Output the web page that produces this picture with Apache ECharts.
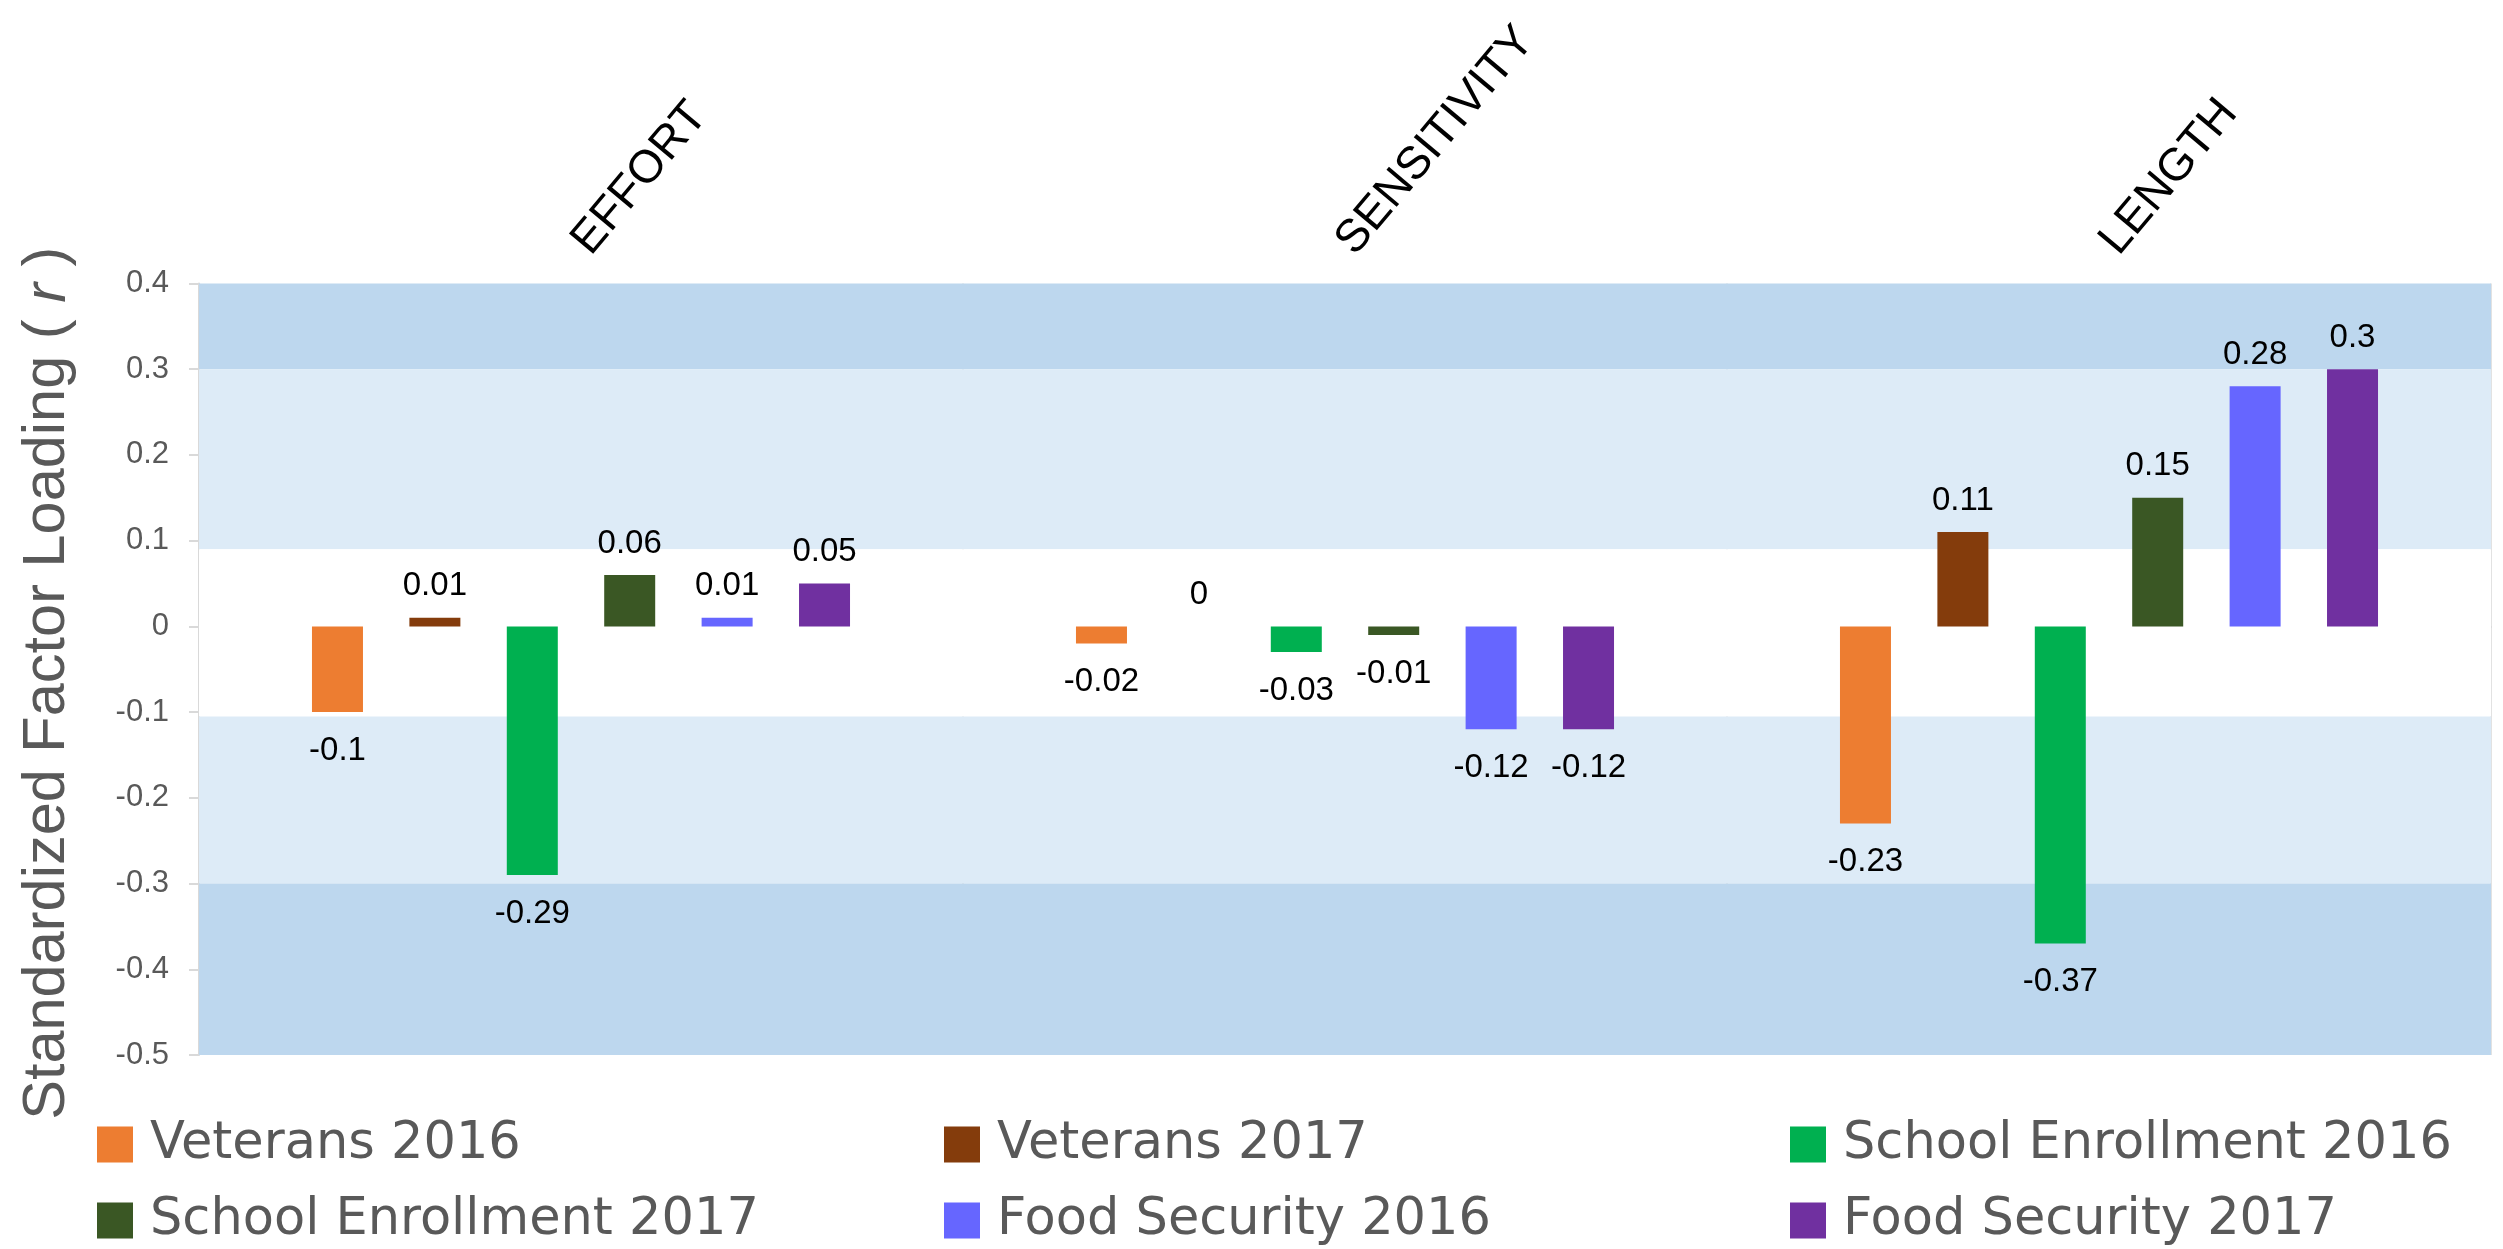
<!DOCTYPE html>
<html>
<head>
<meta charset="utf-8">
<script src="https://cdn.jsdelivr.net/npm/echarts@6/dist/echarts.min.js"></script>
<style>
html,body{margin:0;padding:0;background:#fff;}
#c{width:2503px;height:1249px;}
</style>
</head>
<body>
<div id="c"></div>
<script>
const categories = ['EFFORT', 'SENSITIVITY', 'LENGTH'];
const seriesNames = ['Veterans 2016', 'Veterans 2017', 'School Enrollment 2016', 'School Enrollment 2017', 'Food Security 2016', 'Food Security 2017'];
const veterans2016 = [-0.1, -0.02, -0.23];
const veterans2017 = [0.01, 0, 0.11];
const schoolEnrollment2016 = [-0.29, -0.03, -0.37];
const schoolEnrollment2017 = [0.06, -0.01, 0.15];
const foodSecurity2016 = [0.01, -0.12, 0.28];
const foodSecurity2017 = [0.05, -0.12, 0.3];
const yTicks = [-0.5, -0.4, -0.3, -0.2, -0.1, 0, 0.1, 0.2, 0.3, 0.4];
const bandRanges = [[0.3, 0.4], [0.09, 0.3], [-0.105, 0.09], [-0.3, -0.105], [-0.5, -0.3]];

const allValues = [veterans2016, veterans2017, schoolEnrollment2016, schoolEnrollment2017, foodSecurity2016, foodSecurity2017];
const colors = ['#ED7D31', '#843C0C', '#00B050', '#3A5724', '#6666FF', '#7030A0'];
const bandColors = ['#BDD7EE', '#DDEBF7', '#FFFFFF', '#DDEBF7', '#BDD7EE'];

const chart = echarts.init(document.getElementById('c'), null, {renderer: 'canvas'});

const barSeries = seriesNames.map((name, i) => ({
  name: name,
  type: 'bar',
  xAxisIndex: 0,
  yAxisIndex: 0,
  barWidth: 51,
  barGap: '91%',
  itemStyle: {color: colors[i]},
  z: 3,
  label: {
    show: true,
    color: '#000',
    fontFamily: 'Liberation Sans',
    fontSize: 33,
    formatter: p => String(p.value)
  },
  data: allValues[i].map(v => ({
    value: v,
    label: {position: v >= 0 ? 'top' : 'bottom', distance: v >= 0 ? 15 : 22}
  }))
}));

const bandSeries = {
  name: '__bands',
  type: 'line',
  data: [],
  silent: true,
  z: -1,
  markArea: {
    silent: true,
    data: bandRanges.map((r, i) => [
      {yAxis: r[0], itemStyle: {color: bandColors[i], opacity: 1}},
      {yAxis: r[1]}
    ])
  }
};

// legend placement: 3 columns x 2 rows (row-major in series order)
const legendColLeft = [97, 944, 1790];
const legendRowTop = [1119, 1195];
const legends = seriesNames.map((name, i) => ({
  data: [name],
  orient: 'horizontal',
  left: legendColLeft[i % 3],
  top: legendRowTop[Math.floor(i / 3)],
  icon: 'rect',
  itemWidth: 36,
  itemHeight: 36,
  padding: 0,
  selectedMode: false,
  textStyle: {color: '#595959', fontFamily: 'DejaVu Sans', fontSize: 51, lineHeight: 50, padding: [0, 0, 0, 12]}
}));

chart.setOption({
  animation: false,
  backgroundColor: '#ffffff',
  grid: {left: 199, right: 12, top: 283.5, bottom: 194, containLabel: false},
  legend: legends,
  xAxis: [
    {
      type: 'category',
      data: categories,
      position: 'top',
      axisLine: {show: false, onZero: false},
      axisTick: {show: false},
      axisLabel: {
        rotate: -50,
        margin: 35,
        color: '#000',
        fontFamily: 'Liberation Sans',
        fontSize: 46
      },
      splitLine: {show: true, lineStyle: {color: '#D9D9D9', width: 1.5}}
    },
    {
      type: 'category',
      data: categories,
      position: 'bottom',
      axisLine: {show: true, onZero: true, lineStyle: {color: '#D9D9D9', width: 2}},
      axisTick: {show: false},
      axisLabel: {show: false},
      splitLine: {show: false}
    }
  ],
  yAxis: {
    type: 'value',
    min: yTicks[0],
    max: yTicks[yTicks.length - 1],
    interval: 0.1,
    name: '{a|Standardized Factor Loading ( }{b|r}{a| )}',
    nameLocation: 'middle',
    nameGap: 121,
    nameRotate: 90,
    nameTextStyle: {
      padding: [0, 28, 0, 0],
      rich: {
        a: {fontFamily: 'Liberation Sans', fontSize: 59.5, color: '#595959'},
        b: {fontFamily: 'Liberation Sans', fontSize: 59.5, color: '#595959', fontStyle: 'italic'}
      }
    },
    axisLine: {show: true, lineStyle: {color: '#D9D9D9', width: 2}},
    axisTick: {show: true, length: 10, lineStyle: {color: '#D9D9D9', width: 2}},
    axisLabel: {
      margin: 30,
      color: '#595959',
      fontFamily: 'Liberation Sans',
      fontSize: 31,
      formatter: v => String(Math.round(v * 10) / 10)
    },
    splitLine: {show: false}
  },
  series: [bandSeries].concat(barSeries)
});
</script>
</body>
</html>
